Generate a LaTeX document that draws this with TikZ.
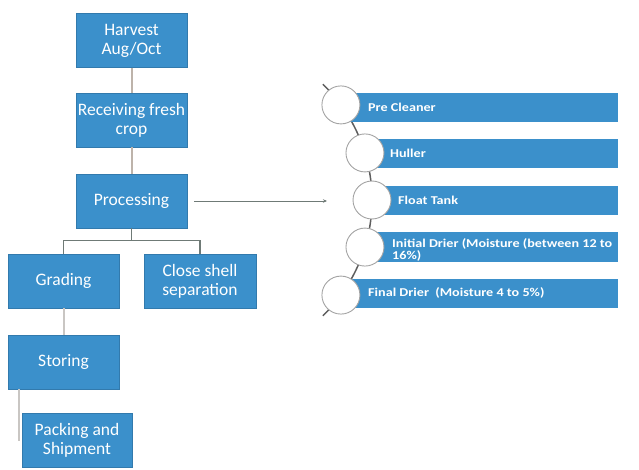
\documentclass[tikz,border=0pt]{standalone}
\usepackage{fontspec}
\setmainfont{Carlito}
\newfontfamily\barfont[FakeStretch=1.18]{Carlito}
\usetikzlibrary{calc,arrows.meta}
\definecolor{boxblue}{HTML}{3B90CB}
\definecolor{tanline}{HTML}{BDB3AA}
\definecolor{branchgray}{HTML}{6F7A76}
\definecolor{lightline}{HTML}{C9C6C3}
\definecolor{circgray}{HTML}{A3A3A3}
\definecolor{arcgray}{HTML}{5E5E5E}
\tikzset{
  box/.style={rectangle, fill=boxblue, draw=boxblue!85!black, line width=0.4pt,
    minimum width=111pt, minimum height=54pt, text=white, align=center,
    font=\fontsize{17.5}{19}\selectfont, inner sep=0pt},
  bar/.style={rectangle, fill=boxblue, minimum height=29pt, inner sep=0pt, anchor=west},
  bartext/.style={text=white, anchor=west, inner sep=0pt, align=left,
    font=\barfont\bfseries\fontsize{12}{10.5}\selectfont},
  circ/.style={circle, fill=white, draw=circgray, line width=0.9pt, minimum size=38pt, inner sep=0pt},
  tanconn/.style={draw=tanline, line width=2pt},
  branch/.style={draw=branchgray, line width=1.3pt},
  lightconn/.style={draw=lightline, line width=2pt},
}
\begin{document}
\begin{tikzpicture}[x=1pt,y=-1pt]
\useasboundingbox (0,0) rectangle (639,470);
% left flow
\node[box] (harv) at (131.5,40.5) {Harvest\\Aug/Oct};
\node[box] (recv) at (131.5,120) {Receiving fresh\\crop};
\node[box] (proc) at (131.5,201) {Processing};
\node[box] (grad) at (63.5,281) {Grading};
\node[box, minimum width=112pt] (close) at (200,281) {Close shell\\separation};
\node[box] (stor) at (63.5,362) {Storing};
\node[box, minimum width=110pt] (pack) at (77,440) {Packing and\\Shipment};
\draw[tanconn] (harv.south) -- (recv.north);
\draw[tanconn] (recv.south) -- (proc.north);
\draw[branch] (proc.south) -- ++(0,12) -| (grad.north);
\draw[branch] (proc.south) -- ++(0,12) -| (close.north);
\draw[lightconn] (grad.south) -- (stor.north);
\coordinate (packend) at (18.5,441);
\draw[lightconn] (stor.south west -| packend) -- (packend);
% arrow to the process list
\coordinate (arrend) at (327,201);
\draw[draw=branchgray, line width=0.8pt, -{Stealth[length=4pt,width=3.5pt]}] ($(proc.east)+(7,0)$) -- (arrend);
% right list
\coordinate (arcc) at (211,200);
\draw[arcgray, line width=1.5pt] ($(arcc)+(-46:161)$) arc[start angle=-46, end angle=46, radius=161];
\node[bar, minimum width=277pt] (b1) at (341,107.5) {};
\node[bar, minimum width=255pt] (b2) at (363,153.5) {};
\node[bar, minimum width=246pt] (b3) at (372,201) {};
\node[bar, minimum width=254pt] (b4) at (364,247) {};
\node[bar, minimum width=276pt] (b5) at (342,293.5) {};
\node[circ] (c1) at ($(arcc)+(-36.2:161)$) {};
\node[circ] (c2) at ($(arcc)+(-17:161)$) {};
\node[circ] (c3) at ($(arcc)+(0:161)$) {};
\node[circ] (c4) at ($(arcc)+(17:161)$) {};
\node[circ] (c5) at ($(arcc)+(36.2:161)$) {};
\node[bartext] (t1) at (368,107) {Pre Cleaner};
\node[bartext] (t2) at (390,153) {Huller};
\node[bartext] (t3) at (398,200) {Float Tank};
\node[bartext] (t4) at (392,250) {Initial Drier (Moisture (between 12 to\\16\%)};
\node[bartext] (t5) at (368,293) {Final Drier\ \ (Moisture 4 to 5\%)};
\end{tikzpicture}
\end{document}
